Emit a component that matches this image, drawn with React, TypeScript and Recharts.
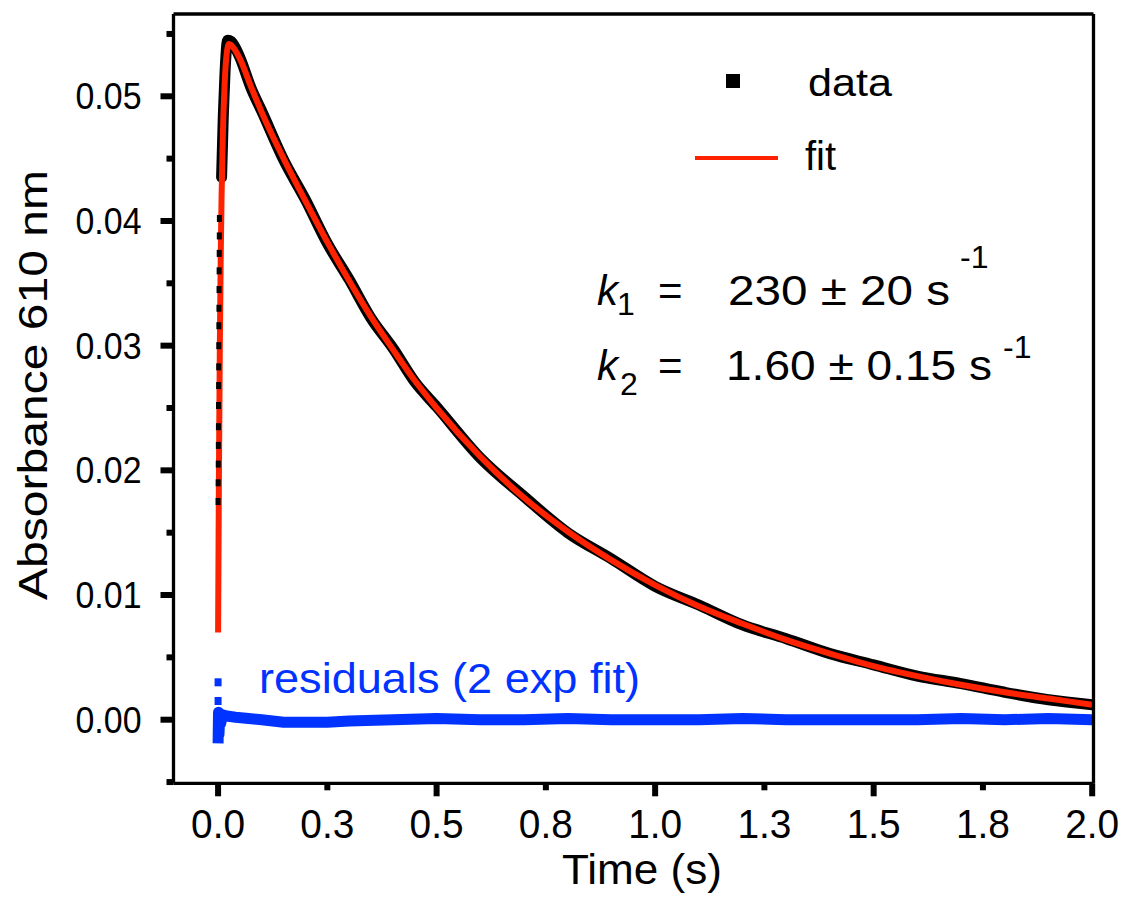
import React from 'react';
import { ComposedChart, Line, Scatter, XAxis, YAxis } from 'recharts';

// ---- data ----
const fitTime = [0, 0.002, 0.004, 0.006, 0.008, 0.011, 0.015, 0.02, 0.025, 0.03, 0.05, 0.075, 0.1, 0.15, 0.2, 0.25, 0.3, 0.35, 0.4, 0.45, 0.5, 0.6, 0.7, 0.8, 0.9, 1.0, 1.1, 1.2, 1.3, 1.4, 1.5, 1.6, 1.7, 1.8, 1.9, 2.0];
const fitAbs = [0.007, 0.02, 0.03, 0.037, 0.042, 0.047, 0.051, 0.0535, 0.0542, 0.0541, 0.053, 0.0508, 0.0487, 0.045, 0.0416, 0.0383, 0.0352, 0.0323, 0.0297, 0.0272, 0.025, 0.0211, 0.0178, 0.0151, 0.0128, 0.0108, 0.0091, 0.0077, 0.0064, 0.0053, 0.0043, 0.0035, 0.0028, 0.0022, 0.0017, 0.0012];

const dataTime = [0.008, 0.012, 0.016, 0.022, 0.03, 0.05, 0.075, 0.1, 0.15, 0.2, 0.25, 0.3, 0.35, 0.4, 0.45, 0.5, 0.6, 0.7, 0.8, 0.9, 1.0, 1.1, 1.2, 1.3, 1.4, 1.5, 1.6, 1.7, 1.8, 1.9, 2.0];
const dataAbs = [0.0435, 0.0485, 0.052, 0.0545, 0.0544, 0.0531, 0.0507, 0.0488, 0.0449, 0.0417, 0.0382, 0.0353, 0.0322, 0.0298, 0.0271, 0.0251, 0.021, 0.0179, 0.015, 0.0129, 0.0107, 0.0092, 0.0076, 0.0065, 0.0053, 0.0044, 0.0035, 0.0029, 0.0022, 0.0016, 0.0012];

const riseTime = [0.0, 0.0002, 0.0004, 0.0006, 0.0008, 0.001, 0.0012, 0.0014, 0.0016, 0.0018, 0.002, 0.0022, 0.0024, 0.0026, 0.0028, 0.003];
const riseAbs = [0.0175, 0.019, 0.0205, 0.022, 0.0235, 0.0252, 0.0268, 0.0283, 0.03, 0.0316, 0.033, 0.0345, 0.036, 0.0374, 0.0388, 0.0402];

const resTime = [0, 0.001, 0.002, 0.004, 0.006, 0.01, 0.02, 0.04, 0.07, 0.1, 0.15, 0.2, 0.25, 0.3, 0.4, 0.5, 0.6, 0.7, 0.8, 0.9, 1.0, 1.1, 1.2, 1.3, 1.4, 1.5, 1.6, 1.7, 1.8, 1.9, 2.0];
const resAbs = [-0.0019, 0.0006, -0.0012, 0.0004, -0.0003, 0.0004, 0.0003, 0.0002, 0.0001, 0.0, -0.0002, -0.0002, -0.0002, -0.0001, 0.0, 0.0001, 0.0, 0.0, 0.0001, 0.0, 0.0, 0.0, 0.0001, 0.0, 0.0, 0.0, 0.0, 0.0001, 0.0, 0.0001, 0.0];

const resOutTime = [0.0, 0.0];
const resOutAbs = [0.003, 0.0015];

const xTicks = [0, 0.25, 0.5, 0.75, 1.0, 1.25, 1.5, 1.75, 2.0];
const xTickLabels = ['0.0', '0.3', '0.5', '0.8', '1.0', '1.3', '1.5', '1.8', '2.0'];
const yTicks = [-0.005, 0, 0.005, 0.01, 0.015, 0.02, 0.025, 0.03, 0.035, 0.04, 0.045, 0.05, 0.055];
const yTickLabels = ['', '0.00', '', '0.01', '', '0.02', '', '0.03', '', '0.04', '', '0.05', ''];

const fitRows = fitTime.map((t, i) => ({ t, v: fitAbs[i] }));
const dataRows = dataTime.map((t, i) => ({ t, v: dataAbs[i] }));
const riseRows = riseTime.map((t, i) => ({ t, v: riseAbs[i] }));
const resRows = resTime.map((t, i) => ({ t, v: resAbs[i] }));
const resOutRows = resOutTime.map((t, i) => ({ t, v: resOutAbs[i] }));

const FONT = '"Liberation Sans", Arial, sans-serif';
const RED = '#FF2200';
const BLUE = '#0033FF';
const X_DOMAIN: [number, number] = [-0.102, 2.003];
const Y_DOMAIN: [number, number] = [-0.0051, 0.0566];

const XTick = (props: any) => {
  const { x, y, payload } = props;
  const idx = xTicks.findIndex((v) => Math.abs(v - payload.value) < 1e-9);
  const major = idx % 2 === 0;
  return (
    <g>
      <line x1={x} x2={x} y1={y} y2={y + (major ? 13 : 7)} stroke="#000" strokeWidth={6} />
      <text x={x} y={y + 55} textAnchor="middle" fontSize={40} fontFamily={FONT} fill="#000"
        textLength={54} lengthAdjust="spacingAndGlyphs">
        {xTickLabels[idx]}
      </text>
    </g>
  );
};

const YTick = (props: any) => {
  const { x, y, payload } = props;
  const idx = yTicks.findIndex((v) => Math.abs(v - payload.value) < 1e-9);
  const label = yTickLabels[idx];
  const major = label !== '';
  return (
    <g>
      <line x1={x} x2={x - (major ? 13 : 7)} y1={y} y2={y} stroke="#000" strokeWidth={6} />
      {major && (
        <text x={x - 98} y={y + 13} textAnchor="start" fontSize={37} fontFamily={FONT} fill="#000"
          textLength={66} lengthAdjust="spacingAndGlyphs">
          {label}
        </text>
      )}
    </g>
  );
};

const RiseShape = (props: any) => {
  const { cx, cy } = props;
  return <rect x={cx - 2.5} y={cy - 3.5} width={5} height={7} fill="#000" />;
};

const ResShape = (props: any) => {
  const { cx, cy } = props;
  return <rect x={cx - 3.5} y={cy - 4} width={7} height={8} fill={BLUE} />;
};

export default function App() {
  return (
    <div style={{ position: 'absolute', left: 0, top: 0, width: 1122, height: 913, background: '#fff' }}>
      <ComposedChart
        width={1122}
        height={913}
        margin={{ top: 4, right: 18.5, bottom: 29.7, left: 73.5 }}
      >
        <XAxis
          type="number"
          dataKey="t"
          domain={X_DOMAIN}
          ticks={xTicks}
          tick={XTick}
          tickLine={false}
          tickSize={0}
          tickMargin={0}
          height={100}
          axisLine={{ stroke: '#000', strokeWidth: 3.3 }}
          allowDataOverflow
          interval={0}
        />
        <XAxis
          xAxisId="top"
          orientation="top"
          type="number"
          domain={X_DOMAIN}
          tick={false}
          tickLine={false}
          height={10}
          axisLine={{ stroke: '#000', strokeWidth: 3.3 }}
        />
        <YAxis
          type="number"
          domain={Y_DOMAIN}
          ticks={yTicks}
          tick={YTick}
          tickLine={false}
          tickSize={0}
          tickMargin={0}
          width={100}
          axisLine={{ stroke: '#000', strokeWidth: 3.3 }}
          allowDataOverflow
          interval={0}
        />
        <YAxis
          yAxisId="right"
          orientation="right"
          type="number"
          domain={Y_DOMAIN}
          tick={false}
          tickLine={false}
          width={10}
          axisLine={{ stroke: '#000', strokeWidth: 3.3 }}
        />
        <Line
          data={resRows}
          dataKey="v"
          stroke={BLUE}
          strokeWidth={11}
          dot={false}
          isAnimationActive={false}
          strokeLinejoin="round"
        />
        <Scatter data={resOutRows} dataKey="v" shape={ResShape} isAnimationActive={false} />
        <Scatter data={riseRows} dataKey="v" shape={RiseShape} isAnimationActive={false} />
        <Line
          data={dataRows}
          dataKey="v"
          stroke="#000"
          strokeWidth={11}
          dot={false}
          type="monotone"
          isAnimationActive={false}
          strokeLinejoin="round"
          strokeLinecap="round"
        />
        <Line
          data={fitRows}
          dataKey="v"
          stroke={RED}
          strokeWidth={6}
          dot={false}
          type="monotone"
          isAnimationActive={false}
          strokeLinejoin="round"
        />
      </ComposedChart>
      <svg
        width={1122}
        height={913}
        style={{ position: 'absolute', left: 0, top: 0, pointerEvents: 'none' }}
        fontFamily={FONT}
      >
        {/* legend */}
        <rect x={726} y={74} width={14} height={14} fill="#000" />
        <text x={808} y={96} fontSize={38} textLength={84} lengthAdjust="spacingAndGlyphs">data</text>
        <line x1={695} x2={778} y1={158} y2={158} stroke={RED} strokeWidth={4} />
        <text x={805} y={170} fontSize={40}>fit</text>

        {/* rate constants */}
        <text x={597} y={305} fontSize={42} fontStyle="italic">k</text>
        <text x={617} y={315} fontSize={32}>1</text>
        <text x={658} y={305} fontSize={42}>=</text>
        <text x={728} y={305} fontSize={42} textLength={222} lengthAdjust="spacingAndGlyphs">230 ± 20 s</text>
        <text x={960} y={268} fontSize={32}>-1</text>

        <text x={597} y={380} fontSize={42} fontStyle="italic">k</text>
        <text x={620} y={395} fontSize={32}>2</text>
        <text x={658} y={380} fontSize={42}>=</text>
        <text x={726} y={380} fontSize={42} textLength={266} lengthAdjust="spacingAndGlyphs">1.60 ± 0.15 s</text>
        <text x={1003} y={358} fontSize={32}>-1</text>

        {/* residual label */}
        <text x={259} y={693} fontSize={42} fill={BLUE} textLength={381} lengthAdjust="spacingAndGlyphs">residuals (2 exp fit)</text>

        {/* axis titles */}
        <text x={562} y={884} fontSize={43} textLength={160} lengthAdjust="spacingAndGlyphs">Time (s)</text>
        <text
          x={0}
          y={0}
          fontSize={40}
          textAnchor="middle"
          transform="translate(47,385) rotate(-90)"
          textLength={430}
          lengthAdjust="spacingAndGlyphs"
        >
          Absorbance 610 nm
        </text>
      </svg>
    </div>
  );
}
